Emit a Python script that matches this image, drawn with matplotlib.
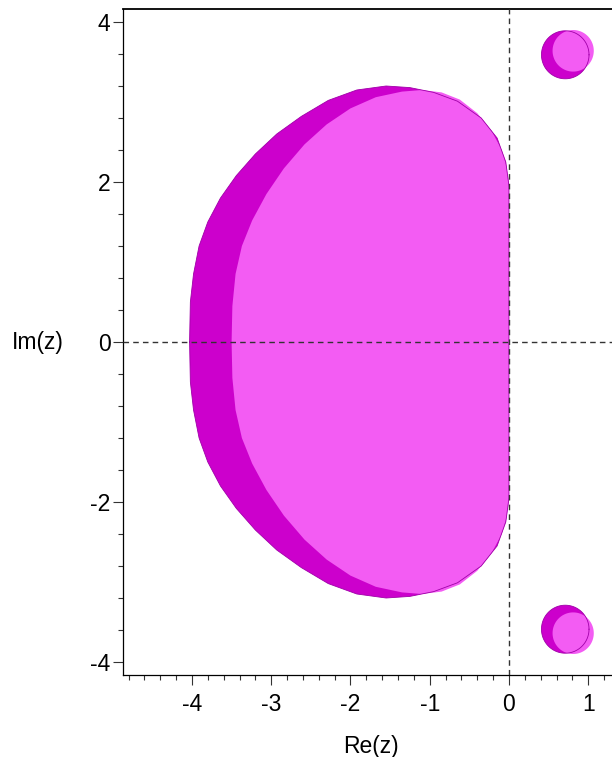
import numpy as np
import matplotlib.pyplot as plt
from matplotlib.ticker import MultipleLocator

plt.rcParams['font.family'] = ['Liberation Sans', 'DejaVu Sans']
plt.rcParams['axes.unicode_minus'] = False

# upper half boundaries (Re, Im), left point to right point
dark_re = [-4.03, -4.02, -3.98, -3.91, -3.80, -3.64, -3.44, -3.20, -2.93, -2.62, -2.28, -1.92, -1.55, -1.25, -0.95, -0.65, -0.35, -0.15, -0.04, 0.0, 0.0]
dark_im = [0.0, 0.50, 0.85, 1.20, 1.50, 1.80, 2.08, 2.35, 2.60, 2.82, 3.02, 3.15, 3.20, 3.18, 3.12, 3.01, 2.80, 2.55, 2.25, 1.95, 0.0]

light_re = [-3.50, -3.49, -3.45, -3.37, -3.24, -3.06, -2.84, -2.58, -2.30, -2.00, -1.68, -1.35, -1.10, -0.85, -0.62, -0.40, -0.22, -0.09, -0.03, 0.0, 0.0]
light_im = [0.0, 0.45, 0.85, 1.20, 1.52, 1.85, 2.17, 2.47, 2.72, 2.92, 3.06, 3.13, 3.15, 3.12, 3.03, 2.86, 2.64, 2.40, 2.19, 1.99, 0.0]

# small islands near 0.7 +- 3.6i : centre and radii
dark_isl = (0.71, 3.59, 0.30, 0.30)
light_isl = (0.81, 3.64, 0.26, 0.26)

xticks = [-4, -3, -2, -1, 0, 1]
yticks = [-4, -2, 0, 2, 4]

dark_c = '#cc00cc'
light_c = '#f35cf3'

def closed(re, im):
    re = np.array(re)
    im = np.array(im)
    return np.r_[re, re[::-1]], np.r_[im, -im[::-1]]

fig = plt.figure(figsize=(6.12, 7.57), dpi=100)
ax = fig.add_axes([123/612, (757-675)/757, 1 - 123/612, (675-8.6)/757])

dx, dy = closed(dark_re, dark_im)
lx, ly = closed(light_re, light_im)
ax.fill(dx, dy, color=dark_c, lw=0, zorder=2)
ax.fill(lx, ly, color=light_c, lw=0, zorder=3)
ax.plot(dx, dy, color='#a000a8', lw=0.6, zorder=4)

t = np.linspace(0, 2*np.pi, 120)
for s in (1, -1):
    cx, cy, rx, ry = dark_isl
    ax.fill(cx + rx*np.cos(t), s*cy + ry*np.sin(t), color=dark_c, lw=0, zorder=2)
    cx2, cy2, rx2, ry2 = light_isl
    ax.fill(cx2 + rx2*np.cos(t), s*cy2 + ry2*np.sin(t), color=light_c, lw=0, zorder=3)
    ax.plot(cx + rx*np.cos(t), s*cy + ry*np.sin(t), color='#a000a8', lw=0.6, zorder=4)

ax.axhline(0, color='#333333', lw=1, ls=(0, (4, 3)), zorder=5)
ax.axvline(0, color='#333333', lw=1, ls=(0, (4, 3)), zorder=5)

ax.set_xlim(-4.87, 1.30)
ax.set_ylim(-4.1625, 4.1675)
ax.set_xticks(xticks)
ax.set_yticks(yticks)
ax.xaxis.set_minor_locator(MultipleLocator(0.2))
ax.yaxis.set_minor_locator(MultipleLocator(0.4))
ax.tick_params(which='major', length=7, width=0.8, labelsize=16.5, color='#333333')
ax.tick_params(which='minor', length=3.5, width=0.8, color='#333333')
ax.tick_params(axis='x', pad=6)
ax.tick_params(axis='y', pad=2)
ax.spines['right'].set_visible(False)
for sp in ('left', 'bottom'):
    ax.spines[sp].set_linewidth(0.9)
ax.spines['top'].set_linewidth(1.3)

fig.text(38/612, 1 - 343/757, 'Im(z)', fontsize=16.5, ha='center', va='center')
fig.text(371/612, 1 - 746/757, 'Re(z)', fontsize=16.5, ha='center', va='center')

fig.savefig('out.png', dpi=100)
